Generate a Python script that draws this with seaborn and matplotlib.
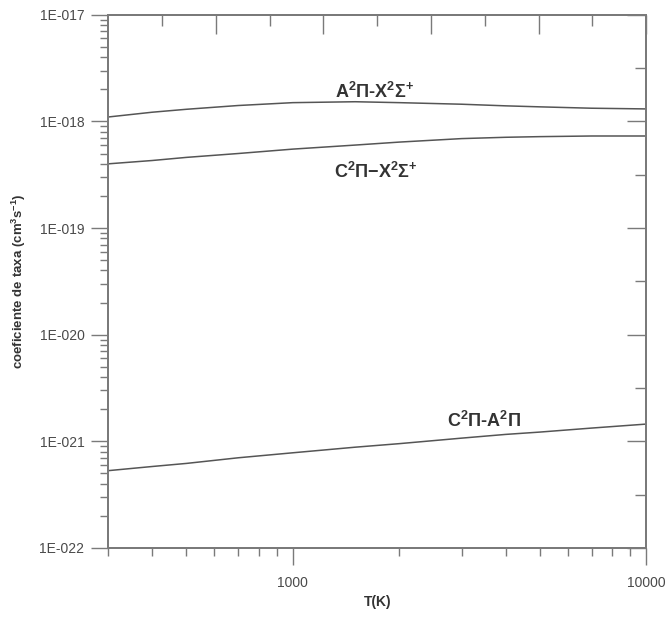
import numpy as np
import pandas as pd
import matplotlib
matplotlib.use('Agg')
import matplotlib.pyplot as plt
import matplotlib.ticker as mticker
import seaborn as sns

# dados
T = [300, 400, 500, 700, 1000, 1500, 2000, 3000, 4000, 5000, 7000, 10000]
k_AX = [1.10e-18, 1.22e-18, 1.30e-18, 1.41e-18, 1.50e-18, 1.53e-18, 1.50e-18,
        1.45e-18, 1.40e-18, 1.37e-18, 1.33e-18, 1.31e-18]
k_CX = [4.0e-19, 4.3e-19, 4.6e-19, 5.0e-19, 5.5e-19, 6.0e-19, 6.4e-19,
        6.9e-19, 7.1e-19, 7.2e-19, 7.3e-19, 7.3e-19]
k_CA = [5.3e-22, 5.8e-22, 6.2e-22, 7.0e-22, 7.8e-22, 8.8e-22, 9.5e-22,
        1.07e-21, 1.16e-21, 1.22e-21, 1.33e-21, 1.45e-21]
nomes = ['AX', 'CX', 'CA']
rotulos = [r'A$^2\Pi$-X$^2\Sigma^{+}$', r'C$^2\Pi$$-$X$^2\Sigma^{+}$', r'C$^2\Pi$-A$^2\Pi$']
rot_pos = [(1700, 1.91e-18), (1720, 3.33e-19), (3470, 1.54e-21)]
y_dec = [1e-22, 1e-21, 1e-20, 1e-19, 1e-18, 1e-17]

df = pd.DataFrame({'T': T * 3, 'k': k_AX + k_CX + k_CA,
                   'serie': [n for n in nomes for _ in T]})

sns.set_style('ticks')
plt.rcParams['font.family'] = ['Liberation Sans', 'DejaVu Sans']
plt.rcParams['mathtext.fontset'] = 'custom'
plt.rcParams['mathtext.rm'] = 'Liberation Sans:bold'
plt.rcParams['mathtext.it'] = 'Liberation Sans:bold'
plt.rcParams['mathtext.bf'] = 'Liberation Sans:bold'

cinza = '#555555'
eixo = '#7a7a7a'

fig = plt.figure(figsize=(6.67, 6.17), dpi=100)
ax = fig.add_axes([0.162, 0.112, 0.807, 0.864])
sns.lineplot(data=df, x='T', y='k', units='serie', estimator=None,
             color=cinza, lw=1.1, ax=ax)
ax.set_xscale('log')
ax.set_yscale('log')
ax.set_xlim(300, 10000)
ax.set_ylim(1e-22, 1e-17)

y_min = [d * s for d in y_dec[:-1] for s in range(2, 10)]
ax.yaxis.set_major_locator(mticker.FixedLocator(y_dec))
ax.yaxis.set_minor_locator(mticker.FixedLocator(y_min))
ax.yaxis.set_major_formatter(mticker.FuncFormatter(lambda v, p: '1E-%03d' % round(-np.log10(v))))
ax.yaxis.set_minor_formatter(mticker.NullFormatter())
x_min = [d * s for d in (100, 1000) for s in range(2, 10) if 300 <= d * s <= 10000]
ax.xaxis.set_major_locator(mticker.FixedLocator([1000, 10000]))
ax.xaxis.set_minor_locator(mticker.FixedLocator(x_min))
ax.xaxis.set_major_formatter(mticker.FuncFormatter(lambda v, p: '%d' % v))
ax.xaxis.set_minor_formatter(mticker.NullFormatter())

ax.tick_params(which='major', direction='out', length=12, width=1, color=eixo,
               labelsize=10, labelcolor='#4a4a4a', pad=5)
ax.tick_params(axis='x', which='major', pad=8)
ax.tick_params(which='minor', direction='out', length=6, width=1, color=eixo)
for s in ax.spines.values():
    s.set_color(eixo)
    s.set_linewidth(1.2)

ax.set_xlabel('T(K)', fontsize=10, fontweight='bold', color='#333333', labelpad=4)
ax.set_ylabel('coeficiente de taxa (cm$^3$s$^{-1}$)', fontsize=9.5,
              fontweight='bold', color='#333333', labelpad=8)

for r, (xp, yp) in zip(rotulos, rot_pos):
    ax.text(xp, yp, r, fontsize=13, fontweight='bold', color='#333333',
            ha='center', va='center')

# eixo de cima (marcas lineares para dentro)
axt = ax.twiny()
axt.set_xlim(0, 1)
axt.xaxis.set_major_locator(mticker.FixedLocator([0.2, 0.4, 0.6, 0.8, 1.0]))
axt.xaxis.set_minor_locator(mticker.FixedLocator([0.1, 0.3, 0.5, 0.7, 0.9]))
axt.xaxis.set_major_formatter(mticker.NullFormatter())
axt.tick_params(axis='x', which='major', direction='in', length=14, width=1,
                color=eixo, labeltop=False)
axt.tick_params(axis='x', which='minor', direction='in', length=8, width=1, color=eixo)

# eixo da direita (decadas e meias decadas para dentro)
axr = ax.twinx()
axr.set_yscale('log')
axr.set_ylim(1e-22, 1e-17)
axr.yaxis.set_major_locator(mticker.FixedLocator(y_dec))
axr.yaxis.set_minor_locator(mticker.FixedLocator([d * 10 ** 0.5 for d in y_dec[:-1]]))
axr.yaxis.set_major_formatter(mticker.NullFormatter())
axr.yaxis.set_minor_formatter(mticker.NullFormatter())
axr.tick_params(axis='y', which='major', direction='in', length=14, width=1, color=eixo)
axr.tick_params(axis='y', which='minor', direction='in', length=8, width=1, color=eixo)
for a in (axt, axr):
    for s in a.spines.values():
        s.set_color(eixo)
        s.set_linewidth(1.2)

fig.savefig('out.png', dpi=100)
